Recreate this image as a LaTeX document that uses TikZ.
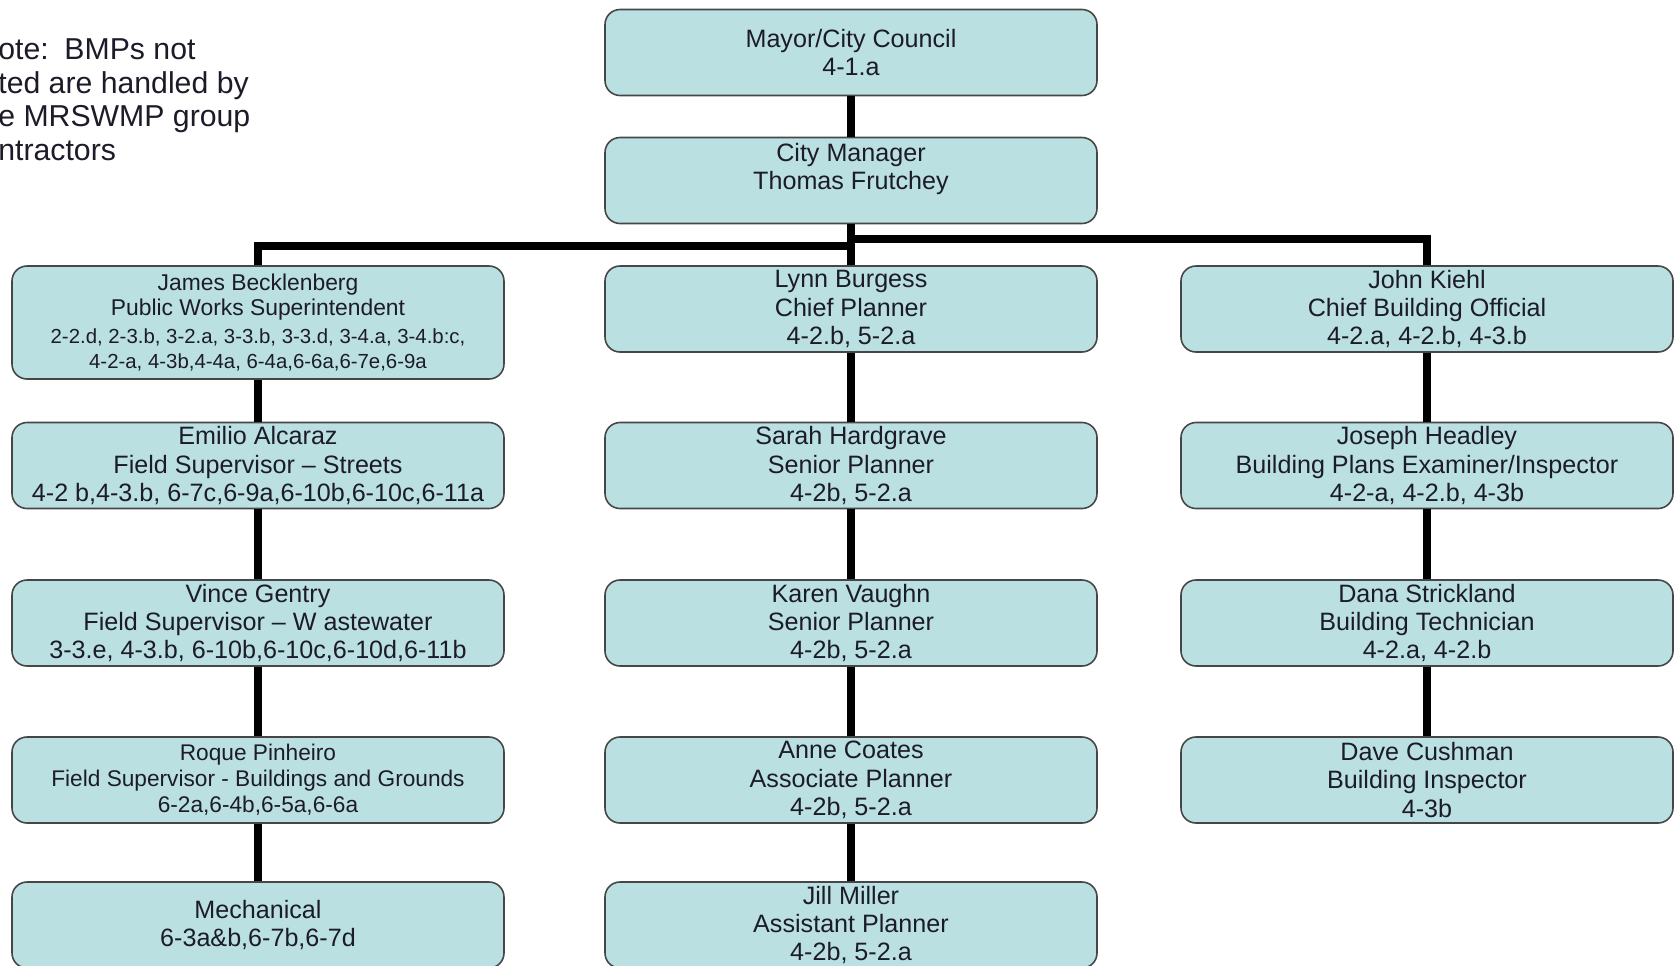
\documentclass[tikz,border=0pt]{standalone}
\usepackage{fontspec}
\setmainfont{Liberation Sans}

\definecolor{boxfill}{RGB}{187,224,226}
\definecolor{boxline}{RGB}{70,70,70}
\definecolor{inktext}{RGB}{28,28,40}

\newcommand{\codesize}{\fontsize{11.6}{13.3}\selectfont}

\begin{document}
\begin{tikzpicture}[
  line join=miter,
  orgbox/.style={draw=boxline, line width=0.9pt, fill=boxfill, rounded corners=0.3cm,
    minimum width=9.84cm, minimum height=1.72cm, align=center, inner sep=2pt,
    text=inktext, font=\fontsize{14.3}{16.1}\selectfont},
  midbox/.style={orgbox, font=\fontsize{12.9}{14.7}\selectfont},
  smallbox/.style={orgbox, minimum height=2.26cm, font=\fontsize{13}{14.5}\selectfont},
  link/.style={line width=4pt}
]

% ---------------------------
% Page frame (1675 x 965 px, 1 px = 0.02 cm)
% ---------------------------
\useasboundingbox (0,0) rectangle (33.5,-19.3);
\clip (0,0) rectangle (33.5,-19.3);

% column centres
\def\xL{5.16}
\def\xM{17.02}
\def\xR{28.54}

% ---------------------------
% Note in the top left corner (cut by the page edge)
% ---------------------------
\node[anchor=north west, inner sep=0pt, align=left, text=inktext,
      font=\fontsize{17.2}{19.3}\selectfont] (note) at (-0.04,-0.76)
  {ote:\hspace{0.15em} BMPs not\\ted are handled by\\e MRSWMP group\\ntractors};

% ---------------------------
% Top of the chart
% ---------------------------
\node[orgbox] (mayor) at (\xM,-1.05) {Mayor/City Council\\4-1.a};
\node[orgbox] (cm)    at (\xM,-3.61) {City Manager\\Thomas Frutchey\\\mbox{}};

% ---------------------------
% Public works column
% ---------------------------
\node[smallbox] (james) at (\xL,-6.45)
  {James Becklenberg\\Public Works Superintendent\\[1.2pt]
   \codesize 2-2.d, 2-3.b, 3-2.a, 3-3.b, 3-3.d, 3-4.a, 3-4.b:c,\\
   \codesize 4-2-a, 4-3b,4-4a, 6-4a,6-6a,6-7e,6-9a};
\node[orgbox] (emilio) at (\xL,-9.31)
  {Emilio Alcaraz\\Field Supervisor -- Streets\\4-2 b,4-3.b, 6-7c,6-9a,6-10b,6-10c,6-11a};
\node[orgbox] (vince) at (\xL,-12.46)
  {Vince Gentry\\Field Supervisor -- W astewater\\3-3.e, 4-3.b, 6-10b,6-10c,6-10d,6-11b};
\node[midbox] (roque) at (\xL,-15.6)
  {Roque Pinheiro\\Field Supervisor - Buildings and Grounds\\6-2a,6-4b,6-5a,6-6a};
\node[orgbox] (mech) at (\xL,-18.5) {Mechanical\\6-3a\&b,6-7b,6-7d};

% ---------------------------
% Planning column
% ---------------------------
\node[orgbox] (lynn)  at (\xM,-6.18)  {Lynn Burgess\\Chief Planner\\4-2.b, 5-2.a};
\node[orgbox] (sarah) at (\xM,-9.31)  {Sarah Hardgrave\\Senior Planner\\4-2b, 5-2.a};
\node[orgbox] (karen) at (\xM,-12.46) {Karen Vaughn\\Senior Planner\\4-2b, 5-2.a};
\node[orgbox] (anne)  at (\xM,-15.6)  {Anne Coates\\Associate Planner\\4-2b, 5-2.a};
\node[orgbox] (jill)  at (\xM,-18.5)  {Jill Miller\\Assistant Planner\\4-2b, 5-2.a};

% ---------------------------
% Building column
% ---------------------------
\node[orgbox] (john)   at (\xR,-6.18)  {John Kiehl\\Chief Building Official\\4-2.a, 4-2.b, 4-3.b};
\node[orgbox] (joseph) at (\xR,-9.31)  {Joseph Headley\\Building Plans Examiner/Inspector\\4-2-a, 4-2.b, 4-3b};
\node[orgbox] (dana)   at (\xR,-12.46) {Dana Strickland\\Building Technician\\4-2.a, 4-2.b};
\node[orgbox] (dave)   at (\xR,-15.6)  {Dave Cushman\\Building Inspector\\4-3b};

% ---------------------------
% Connectors
% ---------------------------
\coordinate (busL) at (\xM,-4.92);
\coordinate (busR) at (\xM,-4.78);

\draw[link] (mayor) -- (cm);
\draw[link] (cm) -- (lynn);
\draw[link] (james.north) |- (busL);
\draw[link] (john.north) |- (busR);

\foreach \a/\b in {james/emilio, emilio/vince, vince/roque, roque/mech,
                   lynn/sarah, sarah/karen, karen/anne, anne/jill,
                   john/joseph, joseph/dana, dana/dave}
  \draw[link] (\a) -- (\b);

\end{tikzpicture}
\end{document}
